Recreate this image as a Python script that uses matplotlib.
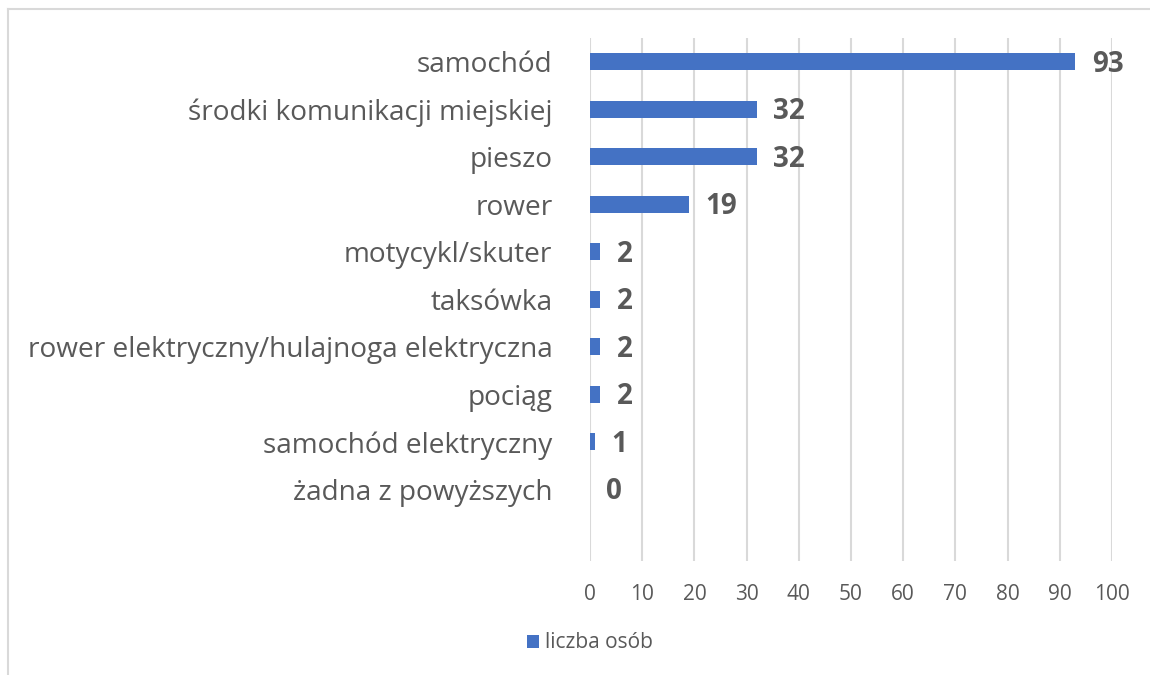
import matplotlib.pyplot as plt
from matplotlib.lines import Line2D

plt.rcParams["font.family"] = ["Open Sans", "DejaVu Sans"]

categories = ["samochód", "środki komunikacji miejskiej", "pieszo", "rower",
              "motycykl/skuter", "taksówka",
              "rower elektryczny/hulajnoga elektryczna", "pociąg",
              "samochód elektryczny", "żadna z powyższych"]
values = [93, 32, 32, 19, 2, 2, 2, 2, 1, 0]
xticks = list(range(0, 101, 10))

blue = "#4472C4"
grey_text = "#595959"
grid_col = "#d9d9d9"

fig = plt.figure(figsize=(11.5, 6.75), dpi=100)
ax = fig.add_axes([590 / 1150, 1 - 560.5 / 675, 522 / 1150, 522.5 / 675])

ypos = list(range(len(categories)))
bars = ax.barh(ypos, values, height=0.36, color=blue, label="liczba osób", zorder=3)
for y, v in zip(ypos, values):
    ax.text(v + 3.1, y + 0.05, str(v), va="center", ha="left", fontsize=20,
            fontweight="bold", color=grey_text)

ax.set_xlim(0, 100)
ax.set_ylim(len(categories) + 0.5, -0.5)
ax.set_xticks(xticks)
ax.set_yticks(ypos)
ax.set_yticklabels(categories, fontsize=20.2, color=grey_text)
ax.tick_params(axis="x", length=0, pad=17, labelsize=15, labelcolor=grey_text)
ax.tick_params(axis="y", length=0, pad=27)
ax.grid(axis="x", color=grid_col, linewidth=1.5, zorder=0)
for s in ax.spines.values():
    s.set_visible(False)

fig.legend(handles=[bars], labels=["liczba osób"], loc="center",
           bbox_to_anchor=(590 / 1150, 1 - 643 / 675), frameon=False,
           fontsize=15, handlelength=0.6, handleheight=0.6, handletextpad=0.3,
           labelcolor=grey_text)

# chart border (top and left visible)
fig.add_artist(Line2D([8 / 1150, 1], [1 - 9 / 675, 1 - 9 / 675], color=grid_col,
                      linewidth=1.5, transform=fig.transFigure))
fig.add_artist(Line2D([8 / 1150, 8 / 1150], [0, 1 - 9 / 675], color=grid_col,
                      linewidth=1.5, transform=fig.transFigure))

fig.savefig("out.png", dpi=100)
